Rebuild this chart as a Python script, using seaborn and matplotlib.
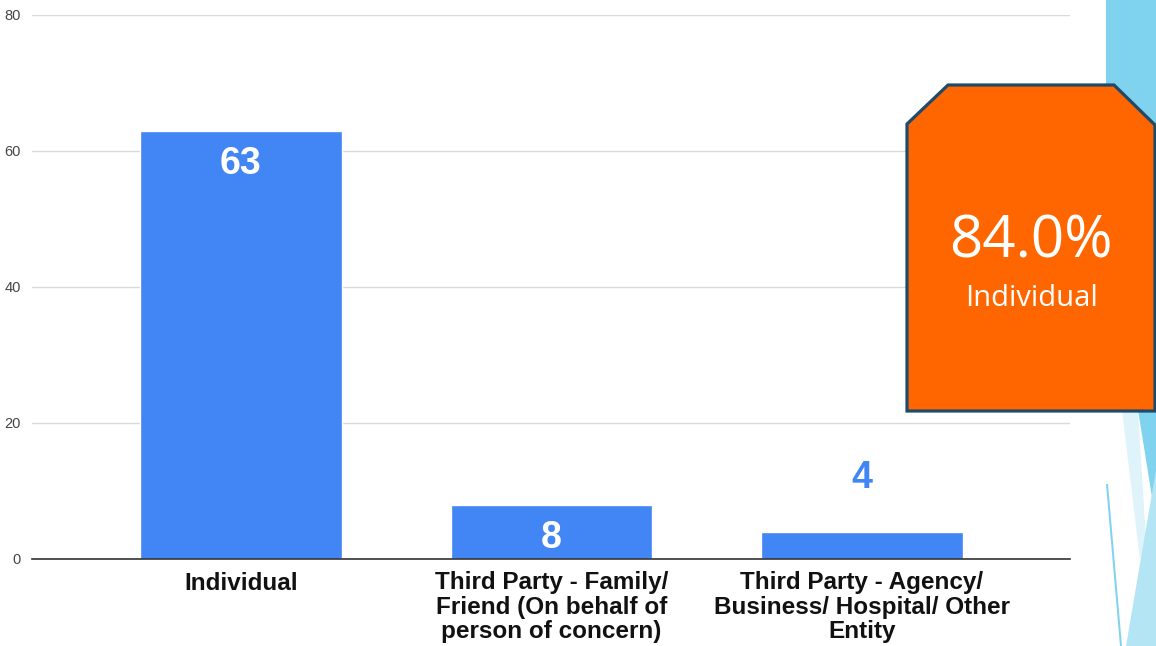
import matplotlib
matplotlib.use("Agg")
import matplotlib.pyplot as plt
from matplotlib.patches import Polygon
import pandas as pd
import seaborn as sns

# Referral source counts
categories = [
    "Individual",
    "Third Party - Family/\nFriend (On behalf of\nperson of concern)",
    "Third Party - Agency/\nBusiness/ Hospital/ Other\nEntity",
]
counts = [63, 8, 4]
y_ticks = [0, 20, 40, 60, 80]
highlight_value = "84.0%"
highlight_label = "Individual"

BAR_BLUE = "#4285F4"
W, H = 1156, 646

sns.set_theme(style="white")
plt.rcParams["font.family"] = ["Liberation Sans", "DejaVu Sans"]

fig = plt.figure(figsize=(W / 100, H / 100), dpi=100)
fig.patch.set_facecolor("white")


def px(x, y):
    """Pixel position (origin top-left) to figure fraction."""
    return (x / W, 1 - y / H)


def fig_poly(points, **kw):
    poly = Polygon([px(x, y) for x, y in points], closed=True,
                   transform=fig.transFigure, **kw)
    fig.add_artist(poly)
    return poly


# Decorative strip along the right edge
fig_poly([(1106, 0), (1156, 0), (1156, 410), (1106, 410)],
         facecolor="#7fd3ee", edgecolor="none", zorder=0.1)
fig_poly([(1122, 410), (1138, 410), (1146, 540), (1140, 560)],
         facecolor="#dff3fa", edgecolor="none", zorder=0.2)
fig_poly([(1138, 410), (1156, 410), (1156, 530), (1152, 497)],
         facecolor="#7fd3ee", edgecolor="none", zorder=0.2)
fig_poly([(1156, 470), (1156, 646), (1126, 646)],
         facecolor="#b3e5f5", edgecolor="none", zorder=0.2)
fig_poly([(1106, 484), (1108, 484), (1122, 646), (1120, 646)],
         facecolor="#7fd3ee", edgecolor="none", zorder=0.2)

ax = fig.add_axes([32 / W, 1 - 559 / H, (1070 - 32) / W, (559 - 15) / H])
ax.set_facecolor("none")

df = pd.DataFrame({"category": categories, "count": counts})
sns.barplot(data=df, x="category", y="count", color=BAR_BLUE,
            saturation=1, width=0.65, ax=ax, zorder=2)

ax.set_xlim(-0.673, 2.67)
ax.set_ylim(0, 80)
ax.set_yticks(y_ticks)
ax.yaxis.grid(True, color="#d9d9d9", linewidth=1)
ax.set_axisbelow(True)
for side in ["top", "right", "left"]:
    ax.spines[side].set_visible(False)
ax.spines["bottom"].set_color("#333333")
ax.spines["bottom"].set_linewidth(1.2)
ax.tick_params(axis="y", length=0, pad=8, labelsize=10.5, labelcolor="#444444")
ax.tick_params(axis="x", length=0, pad=9)
for lbl in ax.get_xticklabels():
    lbl.set_fontsize(17.5)
    lbl.set_fontweight("bold")
    lbl.set_color("#111111")
    lbl.set_linespacing(1.08)
    lbl.set_horizontalalignment("center")
ax.set_xlabel("")
ax.set_ylabel("")

# Value labels: inside the bar when it is tall enough, above it otherwise
for i, v in enumerate(counts):
    if v >= 8:
        ax.annotate(str(v), (i, v), xytext=(0, -11), textcoords="offset points",
                    ha="center", va="top", fontsize=27, fontweight="bold",
                    color="white", zorder=3)
    else:
        ax.annotate(str(v), (i, v), xytext=(0, 26), textcoords="offset points",
                    ha="center", va="bottom", fontsize=27, fontweight="bold",
                    color=BAR_BLUE, zorder=3)

# Highlight callout
fig_poly([(907, 124), (948, 85), (1114, 85), (1155, 125), (1155, 411), (907, 411)],
         facecolor="#FF6600", edgecolor="#1e4a6b", linewidth=2.3, zorder=5,
         joinstyle="miter")
fig.text(*px(1031, 242), highlight_value, ha="center", va="center",
         fontsize=42, color="white", family=["Open Sans", "DejaVu Sans"], zorder=6)
fig.text(*px(1031, 298), highlight_label, ha="center", va="center",
         fontsize=21, color="white", family=["Open Sans", "DejaVu Sans"], zorder=6)

fig.savefig("out.png", dpi=100, facecolor="white")
